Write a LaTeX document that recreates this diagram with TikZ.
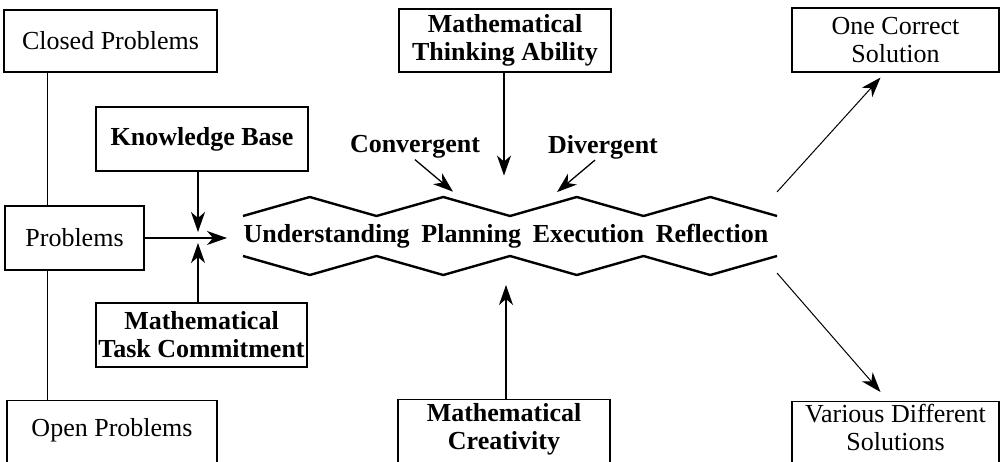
\documentclass[tikz,border=0pt]{standalone}
\usepackage{fontspec}
\setmainfont{Liberation Serif}
\usetikzlibrary{arrows.meta,calc}

\begin{document}
\begin{tikzpicture}[
		x=1pt, y=-1pt,
		% besedilo in okvirji
		txt/.style={inner sep=1pt, align=center, font=\fontsize{26}{28}\selectfont},
		btxt/.style={txt, font=\fontsize{26}{28}\selectfont\bfseries},
		box/.style={draw, line width=1.1pt, minimum width=211, minimum height=63},
		arr/.style={-{Stealth[length=20pt,width=14pt,inset=6pt]}, line width=1.3pt},
		zigzag/.style={line width=2.4pt, line join=miter}
		]
		\useasboundingbox (0,0) rectangle (1001,462);
		\clip (0,0) rectangle (1001,462);

		% levi stolpec
		\node[txt, box, minimum width=213, minimum height=62] (closed) at (110.5,41) {Closed Problems};
		\node[txt, box, minimum width=139, minimum height=64] (problems) at (74.5,238) {Problems};
		\node[box, anchor=north, minimum width=210, minimum height=80] (open) at (112,400) {};
		\node[txt] (opentxt) at ($(open.north)+(0,30)$) {Open Problems};
		\coordinate (spine) at (47.5,0);
		\draw[line width=1pt] (closed.south -| spine) -- (problems.north -| spine);
		\draw[line width=1pt] (problems.south -| spine) -- (open.north -| spine);

		% vhodi
		\node[btxt, box, minimum width=212, minimum height=64] (kb) at (202,139) {Knowledge Base};
		\node[btxt, box, minimum height=64] (task) at (201.5,335) {Mathematical\\Task Commitment};
		\coordinate (meet) at (198,238);
		\draw[arr] (kb.south -| meet) -- ([yshift=6pt]meet);
		\draw[arr] (task.north -| meet) -- ([yshift=-5pt]meet);
		\draw[arr] (problems.east) -- ([xshift=29pt]meet);

		% faze resevanja
		\draw[zigzag] (243,216) foreach \i in {1,...,4} { -- ++(66.75,-19) -- ++(66.75,19) };
		\draw[zigzag] (243,256) foreach \i in {1,...,4} { -- ++(66.75,19) -- ++(66.75,-19) };
		\node[btxt] (phases) at (506,236) {Understanding\hspace{0.45em}Planning\hspace{0.45em}Execution\hspace{0.45em}Reflection};

		\node[btxt, box, minimum width=212] (think) at (505,40.5) {Mathematical\\Thinking Ability};
		\draw[arr] (think.south -| 504,0) -- ++(0,103);
		\node[btxt] (conv) at (415,147) {Convergent};
		\node[btxt] (div) at (603,147) {Divergent};
		\draw[arr] (conv.south) -- ++(38,32);
		\draw[arr] ($(div.south)+(-8,0)$) -- ++(-38,32);

		\node[box, anchor=north, minimum width=212, minimum height=80] (creat) at (504,399) {};
		\node[btxt] (creattxt) at ($(creat.north)+(0,30)$) {Mathematical\\Creativity};
		\draw[arr] (creat.north -| 506,0) -- ++(0,-114);

		% izidi
		\node[txt, box, minimum width=207, minimum height=64] (one) at (895.5,40) {One Correct\\Solution};
		\node[box, anchor=north, minimum width=207, minimum height=80] (various) at (895.5,401) {};
		\node[txt] (varioustxt) at ($(various.north)+(0,26)$) {Various Different\\Solutions};
		\coordinate (outa) at (777,192);
		\coordinate (outb) at (777,273);
		\draw[arr, line width=1pt] (outa) -- ($(one.south)+(-15,5)$);
		\draw[arr, line width=1pt] (outb) -- ($(various.north)+(-15,-9)$);
	\end{tikzpicture}
\end{document}
